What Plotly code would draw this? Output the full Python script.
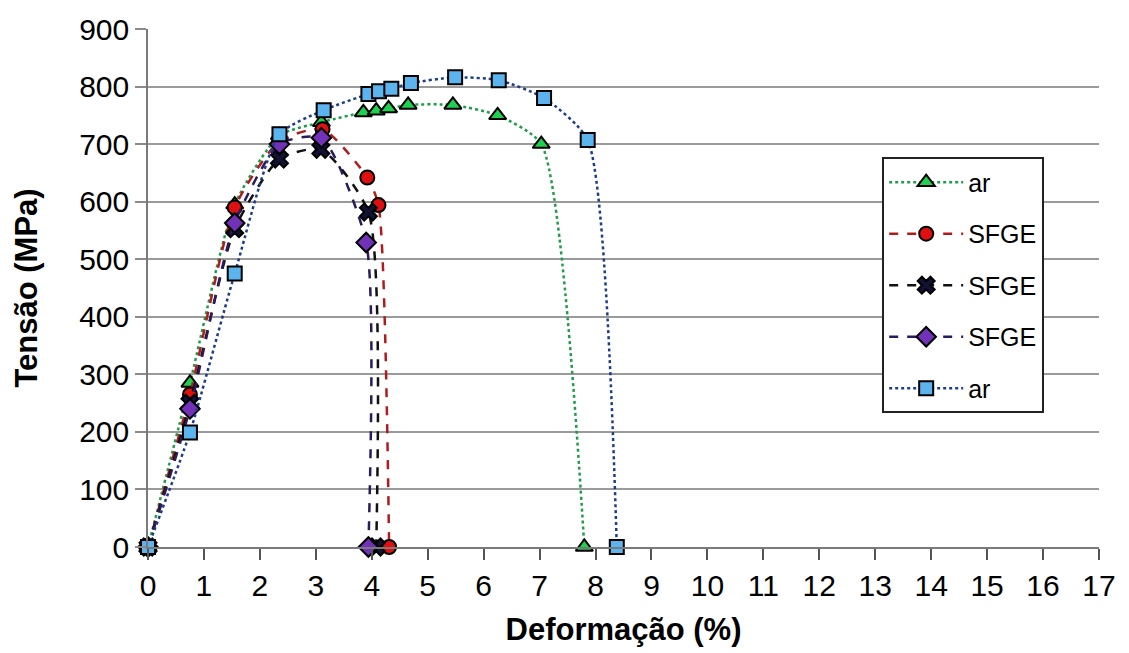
import plotly.graph_objects as go

# Stress-strain curves: strain (%) vs stress (MPa)
ar1_x = [0, 0.75, 1.55, 2.35, 3.1, 3.85, 4.08, 4.3, 4.65, 5.45, 6.25, 7.03, 7.8]
ar1_y = [0, 285, 595, 715, 738, 755, 758, 762, 768, 768, 750, 700, 0]

sfge1_x = [0, 0.75, 1.55, 2.35, 3.12, 3.92, 4.12, 4.31]
sfge1_y = [0, 265, 590, 705, 726, 642, 594, 0]

sfge2_x = [0, 0.75, 1.55, 2.35, 3.09, 3.94, 4.08]
sfge2_y = [0, 250, 553, 674, 691, 582, 0]

sfge3_x = [0, 0.75, 1.55, 2.35, 3.1, 3.9, 3.94]
sfge3_y = [0, 240, 563, 700, 711, 529, 0]

ar2_x = [0, 0.75, 1.55, 2.35, 3.14, 3.94, 4.13, 4.35, 4.7, 5.49, 6.27, 7.08, 7.86, 8.38]
ar2_y = [0, 199, 475, 717, 759, 787, 792, 796, 806, 816, 811, 780, 707, 0]

x_ticks = list(range(0, 18))
y_ticks = list(range(0, 1000, 100))
dark_grid = [400, 700]

series = [
    dict(name="ar", x=ar1_x, y=ar1_y, color="#1e9e4a", dash="dot",
         symbol="triangle-up", fill="#1fd14f", size=15),
    dict(name="SFGE", x=sfge1_x, y=sfge1_y, color="#b01c1c", dash="dash",
         symbol="circle", fill="#e01010", size=14),
    dict(name="SFGE", x=sfge2_x, y=sfge2_y, color="#111111", dash="dash",
         symbol="x", fill="#111133", size=15),
    dict(name="SFGE", x=sfge3_x, y=sfge3_y, color="#2a1a5e", dash="dash",
         symbol="diamond", fill="#7232b8", size=15),
    dict(name="ar", x=ar2_x, y=ar2_y, color="#1c3c8c", dash="dot",
         symbol="square", fill="#5cb4ee", size=14),
]

fig = go.Figure()
for i, s in enumerate(series):
    fig.add_trace(go.Scatter(
        x=s["x"], y=s["y"], name=s["name"], mode="lines+markers",
        legendgroup=f"g{i}",
        line=dict(color=s["color"], dash=s["dash"], width=2.5,
                  shape="spline", smoothing=0.6),
        marker=dict(symbol=s["symbol"], size=s["size"], color=s["fill"],
                    line=dict(color="#000000", width=2)),
        cliponaxis=False,
    ))

for v in dark_grid:
    fig.add_shape(type="line", xref="paper", yref="y", x0=-0.012, x1=1,
                  y0=v, y1=v, line=dict(color="#000000", width=1.5), layer="below")

font_family = "Liberation Sans, Arial, sans-serif"

fig.update_layout(
    width=1129, height=653,
    margin=dict(l=148, r=30, t=25, b=105),
    paper_bgcolor="white", plot_bgcolor="white",
    font=dict(family=font_family, color="#000000"),
    showlegend=True,
    legend=dict(
        x=0.772, y=0.752, xanchor="left", yanchor="top",
        bordercolor="#222222", borderwidth=2, bgcolor="white",
        font=dict(size=25, family=font_family),
        traceorder="grouped", tracegroupgap=16, itemwidth=74,
    ),
    xaxis=dict(
        range=[0, 17], tickmode="array", tickvals=x_ticks,
        ticktext=[str(t) for t in x_ticks],
        showgrid=False, zeroline=False,
        showline=True, linecolor="#7a7a7a", linewidth=1.5,
        ticks="outside", ticklen=11, tickcolor="#555555", tickwidth=1.5,
        tickfont=dict(size=30),
        title=dict(text="<b>Deformação (%)</b>", font=dict(size=31), standoff=18),
    ),
    yaxis=dict(
        range=[0, 900], tickmode="array", tickvals=y_ticks,
        ticktext=[str(t) for t in y_ticks],
        showgrid=True, gridcolor="#9a9a9a", gridwidth=1.5,
        zeroline=False,
        showline=True, linecolor="#7a7a7a", linewidth=1.5,
        ticks="outside", ticklen=11, tickcolor="#8a8a8a", tickwidth=1.5,
        tickfont=dict(size=30),
        title=dict(text="<b>Tensão (MPa)</b>", font=dict(size=31), standoff=32),
    ),
)

fig.write_html("out.html")
